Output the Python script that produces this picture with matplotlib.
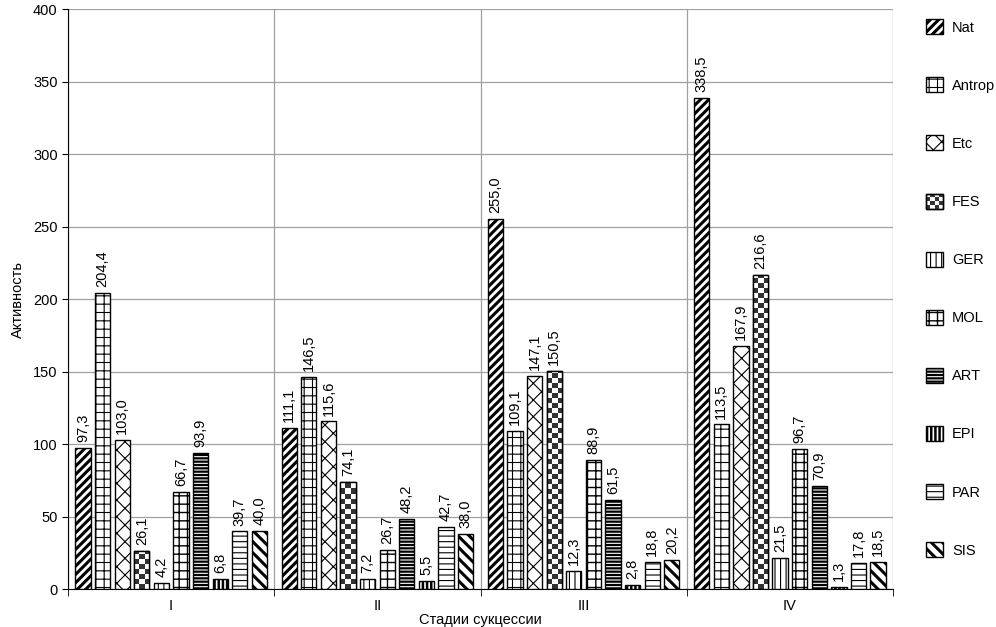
import matplotlib.pyplot as plt
from matplotlib.patches import Rectangle
from matplotlib.legend_handler import HandlerBase
import numpy as np

plt.rcParams['font.family'] = ['Liberation Sans', 'DejaVu Sans']

stages = ["I", "II", "III", "IV"]
series = ["Nat", "Antrop", "Etc", "FES", "GER", "MOL", "ART", "EPI", "PAR", "SIS"]

nat = [97.3, 111.1, 255.0, 338.5]
antrop = [204.4, 146.5, 109.1, 113.5]
etc = [103.0, 115.6, 147.1, 167.9]
fes = [26.1, 74.1, 150.5, 216.6]
ger = [4.2, 7.2, 12.3, 21.5]
mol = [66.7, 26.7, 88.9, 96.7]
art = [93.9, 48.2, 61.5, 70.9]
epi = [6.8, 5.5, 2.8, 1.3]
par = [39.7, 42.7, 18.8, 17.8]
sis = [40.0, 38.0, 20.2, 18.5]
values = [nat, antrop, etc, fes, ger, mol, art, epi, par, sis]

# hatch, hatch linewidth ("checker" = drawn as checkerboard)
styles = [
    ("////", 2.2),
    ("++", 0.8),
    ("xx", 0.8),
    ("checker", 0),
    ("|||", 0.8),
    ("++", 1.0),
    ("-----", 1.6),
    ("||||", 1.8),
    ("---", 0.8),
    ("\\\\\\", 2.2),
]


class CheckerHandler(HandlerBase):
    def create_artists(self, legend, orig_handle, xdescent, ydescent,
                       width, height, fontsize, trans):
        n = 4
        arts = [Rectangle((-xdescent, -ydescent), width, height, facecolor="white",
                          edgecolor="black", linewidth=1.0, transform=trans)]
        for r in range(n):
            for c in range(n):
                if (r + c) % 2 == 0:
                    arts.append(Rectangle((-xdescent + c * width / n, -ydescent + r * height / n),
                                          width / n, height / n, facecolor="#333333",
                                          edgecolor="none", transform=trans))
        arts.append(Rectangle((-xdescent, -ydescent), width, height, facecolor="none",
                              edgecolor="black", linewidth=1.0, transform=trans))
        return arts


fs = 10.5
fig = plt.figure(figsize=(9.96, 6.27), dpi=100)
ax = fig.add_axes([0.0683, 0.0606, 0.8283, 0.925])
ax.set_xlim(-0.5, 3.5)
ax.set_ylim(0, 400)

x = np.arange(len(stages))
step = 0.095
width = 0.074
cell = 5 * 400 / 580  # checker cell height in data units (~5 px)
handles = []
for i, (name, vals) in enumerate(zip(series, values)):
    hatch, hlw = styles[i]
    pos = x + (i - 4.5) * step
    bars = ax.bar(pos, vals, width, color="white", edgecolor="black", linewidth=1.0,
                  hatch=None if hatch == "checker" else hatch, label=name, zorder=3)
    for b in bars:
        if hatch == "checker":
            nr = max(1, int(np.ceil(b.get_height() / cell)))
            img = (np.add.outer(np.arange(nr), np.arange(3)) % 2).astype(float)
            x0 = b.get_x()
            im = ax.imshow(img, cmap="gray_r", vmin=0, vmax=1.25, origin="lower",
                           extent=(x0, x0 + b.get_width(), 0, nr * cell),
                           aspect="auto", interpolation="nearest", zorder=3.5)
            im.set_clip_path(b)
            ax.add_patch(Rectangle((x0, 0), b.get_width(), b.get_height(),
                                   facecolor="none", edgecolor="black", linewidth=1.0, zorder=3.6))
        elif hasattr(b, "set_hatch_linewidth"):
            b.set_hatch_linewidth(hlw)
    handles.append(bars[0])
    for p, v in zip(pos, vals):
        ax.text(p, v + 4, f"{v:.1f}".replace(".", ","), rotation=90,
                ha="center", va="bottom", fontsize=fs, zorder=4)

ax.set_xlim(-0.5, 3.5)
ax.set_ylim(0, 400)
ax.set_yticks(np.arange(0, 401, 50))
ax.set_xticks(x)
ax.set_xticklabels(stages, fontsize=fs)
ax.set_xticks([-0.5, 0.5, 1.5, 2.5, 3.5], minor=True)
ax.tick_params(axis="x", which="major", length=0, pad=7)
ax.tick_params(axis="x", which="minor", length=5, direction="out")
ax.tick_params(axis="y", labelsize=fs, length=4, direction="out")
ax.grid(axis="y", color="#a0a0a0", linewidth=0.9, zorder=0)
ax.grid(axis="x", which="minor", color="#a0a0a0", linewidth=0.9, zorder=0)
ax.spines["top"].set_visible(False)
ax.spines["right"].set_visible(False)
ax.set_xlabel("Стадии сукцессии", fontsize=fs, labelpad=0)
ax.set_ylabel("Активность", fontsize=fs, labelpad=6)

leg = fig.legend(handles, series, loc="upper left", bbox_to_anchor=(0.918, 0.988),
                 frameon=False, fontsize=fs, handlelength=1.2, handleheight=1.2,
                 labelspacing=2.93, handletextpad=0.6, borderpad=0.3,
                 handler_map={handles[3]: CheckerHandler()})
for p, st in zip(leg.legend_handles, styles):
    if st[0] != "checker" and hasattr(p, "set_hatch_linewidth"):
        p.set_hatch_linewidth(st[1])

fig.savefig("out.png", dpi=100)
